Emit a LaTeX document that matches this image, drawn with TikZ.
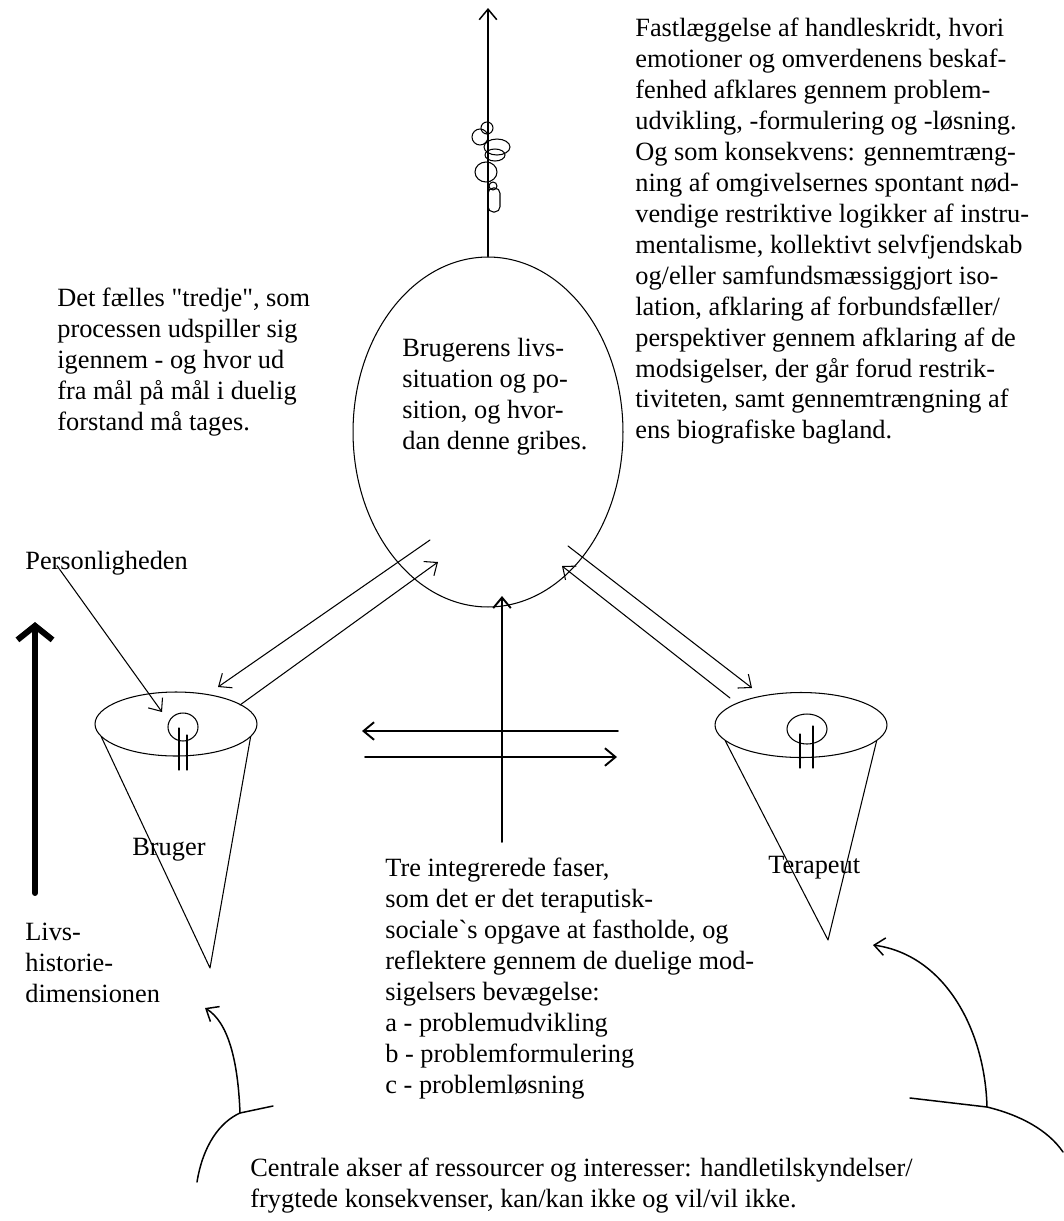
\documentclass[tikz,border=0pt]{standalone}
\usepackage{fontspec}
\setmainfont{Liberation Serif}[Ligatures=TeXOff]
\usetikzlibrary{arrows.meta,shapes.geometric}
\newcommand{\diafont}{\fontsize{15}{17.6}\selectfont}
\begin{document}
\begin{tikzpicture}[x=0.02cm,y=-0.02cm,font=\diafont,line join=round,line cap=round,>={Straight Barb[length=6pt,width=10pt]}]
	\tikzset{every node/.style={inner sep=0pt,align=left,anchor=north west},
		fine/.style={line width=0.6pt},
		stroke/.style={line width=0.85pt},
		axis/.style={line width=1.1pt}}
	\useasboundingbox (0,0) rectangle (1064,1221);
	% the user's life situation, with the rising arrow
	\node[draw,fine,ellipse,anchor=center,minimum width=5.4cm,minimum height=7cm] (situation) at (488,432) {};
	\coordinate (goal) at (488,8);
	\draw[stroke,->] (situation.north) -- (goal);
	\foreach \cx/\cy/\rx/\ry in {487/128/6/6,480/137/8/8,497/147/13/8,495/155/10/6,486/172/11/10,493/186/4/4}
	\draw[fine] (\cx,\cy) ellipse [x radius=\rx,y radius=\ry];
	\draw[fine,rounded corners=3pt] (488,188) rectangle (500,212);
	% cones
	\node[draw,fine,ellipse,anchor=center,minimum width=3.24cm,minimum height=1.28cm] (bruger) at (176,724) {};
	\coordinate (brugertip) at (210,968);
	\draw[fine] (bruger.190) -- (brugertip) -- (bruger.-10);
	\node[draw,fine,ellipse,anchor=center,minimum width=3.44cm,minimum height=1.3cm] (terapeut) at (801,725) {};
	\coordinate (terapeuttip) at (828,940);
	\draw[fine] (terapeut.192) -- (terapeuttip) -- (terapeut.-12);
	\draw[fine] (183,727) ellipse [x radius=15,y radius=14];
	\draw[fine] (179,728) -- (179,770) (187,735) -- (187,770);
	\draw[fine] (807,729) ellipse [x radius=20,y radius=15];
	\draw[fine] (813,726) -- (813,768) (800,734) -- (800,768);
	% arrows between situation and cones
	\coordinate (a1) at (430,540); \coordinate (a2) at (218,687);
	\coordinate (b1) at (240,705); \coordinate (b2) at (438,562);
	\coordinate (c1) at (568,546); \coordinate (c2) at (752,688);
	\coordinate (d1) at (730,698); \coordinate (d2) at (562,566);
	\draw[fine,->] (a1) -- (a2);
	\draw[fine,->] (b1) -- (b2);
	\draw[fine,->] (c1) -- (c2);
	\draw[fine,->] (d1) -- (d2);
	% three phases cross
	\coordinate (crossbot) at (502,842); \coordinate (crosstop) at (502,596);
	\coordinate (w1) at (618,731); \coordinate (w2) at (362,731);
	\coordinate (e1) at (365,757); \coordinate (e2) at (617,757);
	\draw[axis,->] (crossbot) -- (crosstop);
	\draw[axis,->] (w1) -- (w2);
	\draw[axis,->] (e1) -- (e2);
	% life history
	\coordinate (histbot) at (35,893); \coordinate (histtop) at (35,622);
	\draw[line width=3.4pt,-{Straight Barb[length=8pt,width=20pt]}] (histbot) -- (histtop);
	% texts
	\node (handling) at (635,18) {Fastlæggelse af handleskridt, hvori\\
		emotioner og omverdenens beskaf-\\
		fenhed afklares gennem problem-\\
		udvikling, -formulering og -løsning.\\
		Og som konsekvens: gennemtræng-\\
		ning af omgivelsernes spontant nød-\\
		vendige restriktive logikker af instru-\\
		mentalisme, kollektivt selvfjendskab\\
		og/eller samfundsmæssiggjort iso-\\
		lation, afklaring af forbundsfæller/\\
		perspektiver gennem afklaring af de\\
		modsigelser, der går forud restrik-\\
		tiviteten, samt gennemtrængning af\\
		ens biografiske bagland.};
	\node (tredje) at (57,288) {Det fælles "tredje", som\\
		processen udspiller sig\\
		igennem - og hvor ud\\
		fra mål på mål i duelig\\
		forstand må tages.};
	\node (livssituation) at (402,338) {Brugerens livs-\\
		situation og po-\\
		sition, og hvor-\\
		dan denne gribes.};
	\node (personlighed) at (25,551) {Personligheden};
	\coordinate (selv) at (162,712);
	\draw[fine,->] ([xshift=0.64cm,yshift=0.2cm]personlighed.south west) -- (selv);
	\node (livshistorie) at (25,923) {Livs-\\historie-\\dimensionen};
	\node (brugernavn) at (132,838) {Bruger};
	\node (terapeutnavn) at (768,856) {Terapeut};
	\node (faser) at (385,858) {Tre integrerede faser,\\
		som det er det teraputisk-\\
		sociale`s opgave at fastholde, og\\
		reflektere gennem de duelige mod-\\
		sigelsers bevægelse:\\
		a - problemudvikling\\
		b - problemformulering\\
		c - problemløsning};
	\node (akser) at (250,1158) {Centrale akser af ressourcer og interesser: handletilskyndelser/\\
		frygtede konsekvenser, kan/kan ikke og vil/vil ikke.};
	% resource axes below
	\coordinate (venstrefod) at (240,1113); \coordinate (hoejrefod) at (987,1107);
	\coordinate (brugerend) at (205,1008); \coordinate (terapeutend) at (873,945);
	\draw[stroke] (197,1182) .. controls (203,1145) and (220,1122) .. (venstrefod) -- (273,1106);
	\draw[stroke,->] (venstrefod) .. controls (238,1060) and (228,1022) .. (brugerend);
	\draw[stroke] (910,1098) -- (hoejrefod) .. controls (1020,1115) and (1048,1130) .. (1063,1152);
	\draw[stroke,->] (hoejrefod) .. controls (985,1030) and (945,955) .. (terapeutend);
\end{tikzpicture}
\end{document}
